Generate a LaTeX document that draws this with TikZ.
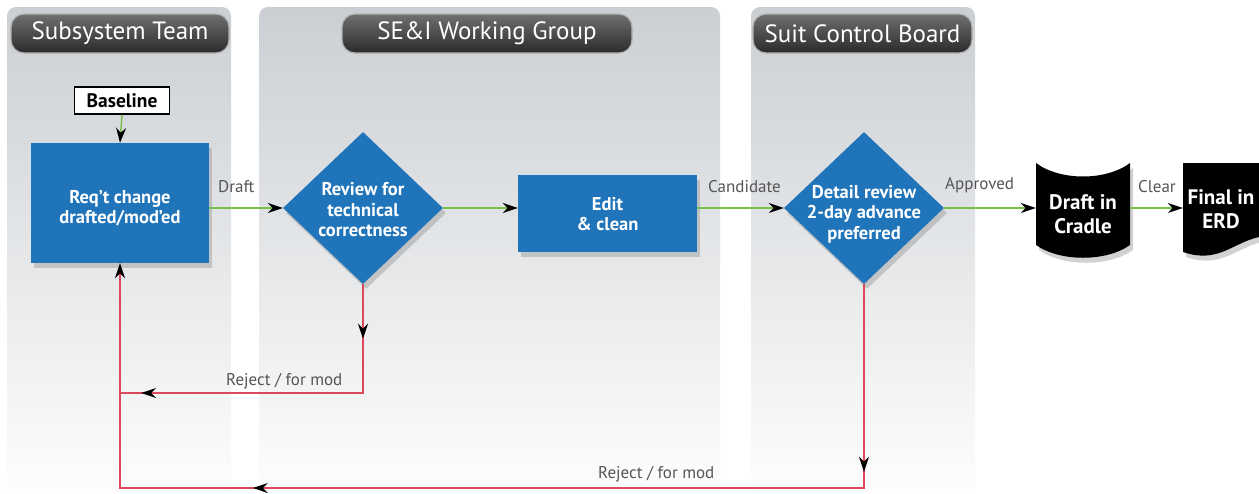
\documentclass[tikz,border=0pt]{standalone}
\usepackage{fontspec}
\setmainfont{PT Sans}
\usetikzlibrary{shapes.geometric,arrows.meta,shadows,decorations.markings}
\definecolor{lanegray}{HTML}{CBCFD3}
\definecolor{boxblue}{HTML}{1F74BA}
\definecolor{flowgreen}{HTML}{77BF4A}
\definecolor{rejred}{HTML}{DC4A5A}
\definecolor{pilltop}{HTML}{707070}
\definecolor{pillbot}{HTML}{2A2A2A}
\definecolor{labgray}{HTML}{555555}
\tikzset{blacktip/.tip={Stealth[color=black, length=15pt, width=10pt]}}
\begin{document}
\begin{tikzpicture}[x=1pt,y=-1pt,
  lane/.style={top color=lanegray, bottom color=white, rounded corners=9pt, draw=none},
  pill/.style={rounded corners=13pt, top color=pilltop, bottom color=pillbot, draw=gray!60, line width=1.2pt,
    text=white, font=\fontsize{25}{28}\selectfont, inner sep=0pt},
  shad/.style={drop shadow={opacity=0.35, shadow xshift=3pt, shadow yshift=-5pt}},
  bluebox/.style={fill=boxblue, draw=none, shad, inner sep=0pt},
  bluediam/.style={diamond, fill=boxblue, draw=none, shad, inner sep=0pt, minimum width=160pt, minimum height=152pt},
  intext/.style={text=white, font=\bfseries\fontsize{18.5}{20.5}\selectfont, align=center, inner sep=0pt},
  blktext/.style={text=white, font=\bfseries\fontsize{21}{24}\selectfont, align=center, inner sep=0pt},
  flabel/.style={text=labgray, font=\fontsize{17}{19}\selectfont, inner sep=0pt},
  flow/.style={draw=flowgreen, line width=1.5pt, -blacktip},
  rej/.style={draw=rejred, line width=1.8pt}
]
\useasboundingbox (0,0) rectangle (1259,493);
\fill[white] (0,0) rectangle (1259,493);
% lanes
\shade[lane] (7,7) rectangle (231,510);
\shade[lane] (259,7) rectangle (720,510);
\shade[lane] (751,7) rectangle (975,510);
% titles
\node[pill, minimum width=218pt, minimum height=39pt] (t1) at (120,33.5) {Subsystem Team};
\node[pill, minimum width=290pt, minimum height=39pt] (t2) at (487,33.5) {SE\&I Working Group};
\node[pill, minimum width=219pt, minimum height=39pt] (t3) at (862.5,33.5) {Suit Control Board};
% baseline
\node[draw=black, line width=1.5pt, fill=white, minimum width=95pt, minimum height=27pt, inner sep=0pt,
  font=\bfseries\fontsize{19.5}{21}\selectfont] (base) at (122,100.5) {Baseline};
% blue shapes
\node[bluebox, minimum width=178pt, minimum height=120pt] (req) at (120,203) {};
\node[intext] (reqt) at (120,208) {Req’t change\\drafted/mod’ed};
\node[bluediam] (d1) at (363,208) {};
\node[intext] (d1t) at (363,210) {Review for\\technical\\correctness};
\node[bluebox, minimum width=179pt, minimum height=77pt] (edit) at (607.5,213.5) {};
\node[intext] (editt) at (607.5,214) {Edit\\\& clean};
\node[bluediam] (d2) at (864,208) {};
\node[intext] (d2t) at (864,214) {Detail review\\2-day advance\\preferred};
% cylinder
\fill[black, shad] (1036,163) .. controls (1060,181) and (1106,181) .. (1130,163) -- (1130,245)
   .. controls (1106,262) and (1060,262) .. (1036,245) -- cycle;
\node[blktext] (cradle) at (1083,214) {Draft in\\Cradle};
\node[minimum width=94pt, minimum height=90pt, inner sep=0pt] (cyl) at (1083,208) {};
% document
\fill[black, shad] (1183,163) -- (1259,163) -- (1259,237) .. controls (1232,243) and (1218,264) .. (1183,252) -- cycle;
\node[blktext] (erdt) at (1221,209) {Final in\\ERD};
\node[minimum width=76pt, minimum height=90pt, inner sep=0pt] (doc) at (1221,208) {};
% flow arrows
\draw[flow] (base.south) -- (req.north);
\draw[flow] (req.east |- d1.west) -- (d1.west);
\draw[flow] (d1.east) -- (edit.west |- d1.east);
\draw[flow] (edit.east |- d2.west) -- (d2.west);
\draw[flow] (d2.east) -- (cyl.west |- d2.east);
\draw[flow] (cyl.east |- d2.east) -- (doc.west |- d2.east);
% labels
\node[flabel, anchor=south west] (lDraft) at (218,193) {Draft};
\node[flabel, anchor=south west] (lCand) at (708,193) {Candidate};
\node[flabel, anchor=south west] (lAppr) at (945,193) {Approved};
\node[flabel, anchor=south west] (lClear) at (1138,193) {Clear};
% reject paths
\coordinate (c1) at (363,393);
\coordinate (c2) at (120,393);
\coordinate (c3) at (864,488);
\coordinate (c4) at (120,488);
\draw[rej, postaction={decorate}, decoration={markings,
   mark=at position 0.155 with {\arrow{blacktip}},
   mark=at position 0.94 with {\arrow{blacktip}}}]
   (d1.south) -- (c1) -- (c2);
\draw[rej, postaction={decorate}, decoration={markings,
   mark=at position 0.16 with {\arrow{blacktip}},
   mark=at position 0.695 with {\arrow{blacktip}}},
   -blacktip]
   (d2.south) -- (c3) -- (c4) -- (req.south);
\node[flabel, anchor=south west] (lRej1) at (226,389) {Reject / for mod};
\node[flabel, anchor=south west] (lRej2) at (598,482) {Reject / for mod};
\end{tikzpicture}
\end{document}
